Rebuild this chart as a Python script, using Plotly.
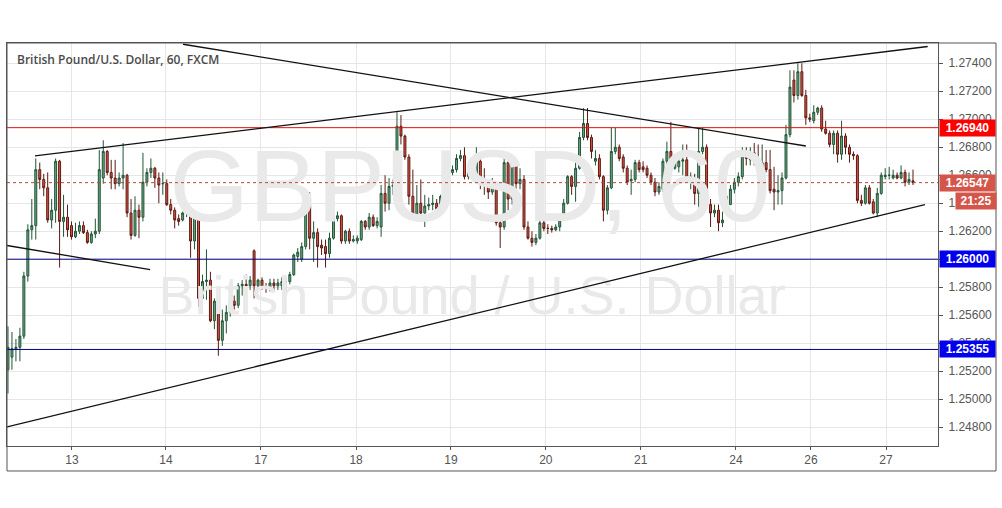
import plotly.graph_objects as go

# ---------------- data (GBPUSD, 1h candles) ----------------
opens = [1.2521,1.2530,1.2536,1.2537,1.2545,1.2588,1.2621,1.2624,1.2664,1.2657,
1.2651,1.2628,1.2635,1.2670,1.2627,1.2630,1.2624,1.2616,1.2620,1.2624,
1.2619,1.2612,1.2618,1.2620,1.2658,1.2677,1.2662,1.2658,1.2654,1.2658,
1.2660,1.2633,1.2617,1.2635,1.2630,1.2655,1.2662,1.2665,1.2658,1.2654,
1.2654,1.2639,1.2635,1.2629,1.2628,1.2633,1.2633,1.2613,1.2630,1.2572,
1.2584,1.2585,1.2556,1.2570,1.2542,1.2556,1.2562,1.2570,1.2567,1.2581,
1.2582,1.2581,1.2606,1.2581,1.2585,1.2580,1.2580,1.2583,1.2581,1.2581,
1.2584,1.2584,1.2589,1.2602,1.2600,1.2609,1.2639,1.2615,1.2619,1.2610,
1.2609,1.2604,1.2615,1.2629,1.2631,1.2613,1.2620,1.2613,1.2613,1.2614,
1.2627,1.2623,1.2630,1.2624,1.2623,1.2647,1.2640,1.2652,1.2653,1.2695,
1.2688,1.2673,1.2645,1.2632,1.2640,1.2633,1.2638,1.2639,1.2640,1.2636,
1.2645,1.2655,1.2662,1.2664,1.2672,1.2674,1.2659,1.2662,1.2659,1.2670,
1.2655,1.2653,1.2648,1.2652,1.2626,1.2623,1.2669,1.2643,1.2669,1.2654,
1.2657,1.2623,1.2615,1.2612,1.2615,1.2626,1.2622,1.2622,1.2621,1.2623,
1.2630,1.2640,1.2659,1.2652,1.2665,1.2687,1.2697,1.2687,1.2670,1.2672,
1.2659,1.2635,1.2651,1.2677,1.2680,1.2673,1.2665,1.2656,1.2657,1.2669,
1.2666,1.2665,1.2660,1.2655,1.2648,1.2650,1.2670,1.2677,1.2665,1.2666,
1.2670,1.2671,1.2657,1.2658,1.2647,1.2677,1.2680,1.2639,1.2633,1.2635,
1.2626,1.2645,1.2639,1.2650,1.2655,1.2659,1.2677,1.2671,1.2676,1.2671,
1.2664,1.2669,1.2664,1.2650,1.2648,1.2649,1.2658,1.2689,1.2728,1.2717,
1.2734,1.2717,1.2701,1.2699,1.2705,1.2708,1.2693,1.2690,1.2682,1.2690,
1.2675,1.2688,1.2680,1.2675,1.2674,1.2642,1.2640,1.2651,1.2641,1.2633,
1.2647,1.2659,1.2660,1.2658,1.2660,1.2658,1.2662,1.2655,1.2656]
highs = [1.2552,1.2548,1.2543,1.2551,1.2591,1.2625,1.2643,1.2672,1.2669,1.2661,
1.2662,1.2643,1.2672,1.2671,1.2646,1.2639,1.2627,1.2626,1.2627,1.2627,
1.2621,1.2620,1.2629,1.2678,1.2685,1.2678,1.2671,1.2671,1.2662,1.2683,
1.2661,1.2643,1.2645,1.2639,1.2676,1.2665,1.2672,1.2666,1.2662,1.2662,
1.2657,1.2643,1.2637,1.2632,1.2634,1.2635,1.2634,1.2633,1.2632,1.2589,
1.2607,1.2591,1.2572,1.2571,1.2564,1.2567,1.2578,1.2574,1.2583,1.2585,
1.2589,1.2588,1.2607,1.2586,1.2587,1.2583,1.2586,1.2586,1.2586,1.2587,
1.2587,1.2591,1.2604,1.2608,1.2612,1.2648,1.2648,1.2627,1.2622,1.2614,
1.2614,1.2619,1.2633,1.2634,1.2632,1.2621,1.2622,1.2617,1.2617,1.2628,
1.2628,1.2633,1.2632,1.2630,1.2653,1.2660,1.2658,1.2657,1.2705,1.2703,
1.2689,1.2675,1.2664,1.2653,1.2657,1.2646,1.2644,1.2646,1.2643,1.2646,
1.2657,1.2671,1.2667,1.2675,1.2678,1.2680,1.2665,1.2664,1.2680,1.2672,
1.2665,1.2657,1.2658,1.2653,1.2628,1.2676,1.2671,1.2672,1.2670,1.2665,
1.2660,1.2627,1.2620,1.2618,1.2628,1.2628,1.2625,1.2624,1.2625,1.2632,
1.2643,1.2660,1.2660,1.2670,1.2691,1.2708,1.2708,1.2689,1.2678,1.2675,
1.2660,1.2653,1.2694,1.2694,1.2682,1.2675,1.2667,1.2664,1.2671,1.2671,
1.2670,1.2667,1.2662,1.2658,1.2655,1.2672,1.2684,1.2698,1.2675,1.2672,
1.2682,1.2682,1.2662,1.2661,1.2694,1.2694,1.2682,1.2643,1.2639,1.2639,
1.2634,1.2648,1.2653,1.2658,1.2662,1.2680,1.2680,1.2680,1.2683,1.2682,
1.2682,1.2678,1.2678,1.2666,1.2660,1.2662,1.2696,1.2735,1.2735,1.2740,
1.2740,1.2721,1.2704,1.2710,1.2709,1.2710,1.2699,1.2692,1.2692,1.2692,
1.2699,1.2690,1.2682,1.2677,1.2675,1.2646,1.2653,1.2653,1.2643,1.2651,
1.2662,1.2665,1.2666,1.2664,1.2662,1.2667,1.2664,1.2662,1.2664]
lows = [1.2504,1.2521,1.2527,1.2527,1.2543,1.2584,1.2614,1.2614,1.2650,1.2645,
1.2626,1.2622,1.2626,1.2594,1.2616,1.2616,1.2614,1.2615,1.2618,1.2618,
1.2611,1.2611,1.2615,1.2618,1.2654,1.2660,1.2650,1.2650,1.2652,1.2650,
1.2630,1.2614,1.2616,1.2615,1.2627,1.2652,1.2658,1.2651,1.2640,1.2646,
1.2638,1.2632,1.2622,1.2624,1.2627,1.2630,1.2601,1.2607,1.2566,1.2566,
1.2571,1.2555,1.2550,1.2531,1.2538,1.2547,1.2559,1.2564,1.2565,1.2574,
1.2576,1.2578,1.2572,1.2578,1.2578,1.2576,1.2577,1.2578,1.2578,1.2578,
1.2575,1.2582,1.2588,1.2598,1.2598,1.2607,1.2607,1.2598,1.2594,1.2603,
1.2594,1.2601,1.2614,1.2627,1.2611,1.2611,1.2611,1.2612,1.2611,1.2613,
1.2621,1.2621,1.2623,1.2622,1.2616,1.2634,1.2635,1.2646,1.2648,1.2682,
1.2671,1.2639,1.2628,1.2630,1.2632,1.2623,1.2635,1.2635,1.2634,1.2634,
1.2643,1.2653,1.2660,1.2662,1.2670,1.2657,1.2657,1.2657,1.2657,1.2650,
1.2646,1.2643,1.2646,1.2624,1.2608,1.2621,1.2635,1.2639,1.2650,1.2650,
1.2621,1.2614,1.2609,1.2610,1.2614,1.2620,1.2618,1.2619,1.2620,1.2620,
1.2628,1.2639,1.2646,1.2641,1.2664,1.2685,1.2685,1.2672,1.2667,1.2657,
1.2627,1.2632,1.2650,1.2675,1.2670,1.2662,1.2653,1.2646,1.2655,1.2662,
1.2662,1.2658,1.2653,1.2645,1.2646,1.2648,1.2667,1.2662,1.2664,1.2662,
1.2660,1.2655,1.2650,1.2639,1.2637,1.2675,1.2637,1.2623,1.2630,1.2620,
1.2623,1.2636,1.2639,1.2647,1.2652,1.2657,1.2667,1.2667,1.2667,1.2659,
1.2661,1.2662,1.2647,1.2635,1.2639,1.2639,1.2657,1.2687,1.2712,1.2714,
1.2716,1.2696,1.2698,1.2697,1.2703,1.2691,1.2689,1.2680,1.2675,1.2669,
1.2671,1.2675,1.2669,1.2671,1.2640,1.2638,1.2639,1.2639,1.2632,1.2630,
1.2646,1.2657,1.2657,1.2657,1.2657,1.2657,1.2652,1.2653,1.2653]
closes = [1.2537,1.2536,1.2537,1.2545,1.2588,1.2621,1.2624,1.2664,1.2657,1.2651,
1.2628,1.2635,1.2670,1.2627,1.2630,1.2621,1.2616,1.2620,1.2624,1.2619,
1.2612,1.2618,1.2620,1.2664,1.2677,1.2662,1.2658,1.2654,1.2658,1.2660,
1.2633,1.2617,1.2635,1.2630,1.2655,1.2662,1.2665,1.2658,1.2653,1.2654,
1.2639,1.2635,1.2628,1.2627,1.2633,1.2633,1.2613,1.2630,1.2572,1.2584,
1.2585,1.2556,1.2570,1.2542,1.2556,1.2562,1.2570,1.2567,1.2581,1.2582,
1.2581,1.2585,1.2581,1.2585,1.2580,1.2580,1.2583,1.2581,1.2583,1.2584,
1.2584,1.2589,1.2603,1.2605,1.2609,1.2639,1.2615,1.2619,1.2609,1.2608,
1.2604,1.2615,1.2630,1.2631,1.2613,1.2620,1.2613,1.2614,1.2615,1.2627,
1.2623,1.2630,1.2624,1.2627,1.2647,1.2640,1.2652,1.2653,1.2695,1.2688,
1.2673,1.2645,1.2632,1.2640,1.2633,1.2638,1.2639,1.2640,1.2636,1.2645,
1.2655,1.2662,1.2664,1.2672,1.2674,1.2659,1.2662,1.2659,1.2670,1.2655,
1.2653,1.2648,1.2652,1.2626,1.2623,1.2669,1.2643,1.2669,1.2654,1.2657,
1.2623,1.2615,1.2612,1.2615,1.2626,1.2622,1.2622,1.2621,1.2623,1.2630,
1.2640,1.2659,1.2652,1.2665,1.2687,1.2697,1.2687,1.2677,1.2672,1.2659,
1.2635,1.2651,1.2677,1.2680,1.2672,1.2665,1.2655,1.2657,1.2669,1.2664,
1.2664,1.2660,1.2655,1.2648,1.2652,1.2670,1.2677,1.2665,1.2670,1.2670,
1.2671,1.2657,1.2659,1.2647,1.2677,1.2680,1.2639,1.2633,1.2635,1.2626,
1.2628,1.2639,1.2650,1.2655,1.2659,1.2677,1.2672,1.2675,1.2670,1.2664,
1.2669,1.2664,1.2649,1.2648,1.2649,1.2658,1.2689,1.2723,1.2717,1.2734,
1.2717,1.2701,1.2700,1.2705,1.2708,1.2693,1.2690,1.2682,1.2690,1.2675,
1.2688,1.2680,1.2675,1.2674,1.2642,1.2640,1.2651,1.2640,1.2633,1.2647,
1.2660,1.2660,1.2660,1.2660,1.2658,1.2662,1.2655,1.2657,1.26547]

day_labels = ["13", "14", "17", "18", "19", "20", "21", "24", "26", "27"]
day_bars = [16.1, 39.8, 63.7, 87.7, 111.6, 135.5, 159.4, 183.4, 202.3, 221.2]

price_ticks = [1.248, 1.250, 1.252, 1.254, 1.256, 1.258, 1.260,
               1.262, 1.264, 1.266, 1.268, 1.270, 1.272, 1.274]

resistance = 1.26940
supports = [1.26000, 1.25355]
last_price = 1.26547
countdown = "21:25"

# trend lines: (bar0, price0, bar1, price1)
trend_lines = [
    (6.8, 1.26738, 231.7, 1.27520),
    (44.1, 1.27536, 201.0, 1.26809),
    (-0.25, 1.24802, 231.0, 1.26390),
    (-0.25, 1.26098, 35.8, 1.25926),
]

title_text = "British Pound/U.S. Dollar, 60, FXCM"
wm_big = "GBPUSD, 60"
wm_small = "British Pound / U.S. Dollar"

# ---------------- figure ----------------
bars = list(range(len(opens)))
fig = go.Figure()

# watermarks (behind candles)
fig.add_trace(go.Scatter(
    x=[116.4], y=[1.26455], mode="text", text=[wm_big],
    textfont=dict(family="Liberation Sans", size=102, color="#e9e9e9"),
    hoverinfo="skip", showlegend=False))
fig.add_trace(go.Scatter(
    x=[116.9], y=[1.25708], mode="text", text=[wm_small],
    textfont=dict(family="Liberation Sans", size=54, color="#e9e9e9"),
    hoverinfo="skip", showlegend=False))

fig.add_trace(go.Candlestick(
    x=bars, open=opens, high=highs, low=lows, close=closes,
    increasing=dict(line=dict(color="#225437", width=1), fillcolor="#6ba583"),
    decreasing=dict(line=dict(color="#5b1a13", width=1), fillcolor="#d75442"),
    whiskerwidth=0, showlegend=False))

shapes = []
shapes.append(dict(type="line", xref="paper", x0=0, x1=1, yref="y",
                   y0=resistance, y1=resistance, line=dict(color="#e01010", width=1)))
for s in supports:
    shapes.append(dict(type="line", xref="paper", x0=0, x1=1, yref="y",
                       y0=s, y1=s, line=dict(color="#000080", width=1)))
shapes.append(dict(type="line", xref="paper", x0=0, x1=1, yref="y",
                   y0=last_price, y1=last_price,
                   line=dict(color="#b5493c", width=1, dash="dot")))
for (x0, y0, x1, y1) in trend_lines:
    shapes.append(dict(type="line", xref="x", yref="y", x0=x0, y0=y0, x1=x1, y1=y1,
                       line=dict(color="#111111", width=1.3)))
# outer frame
shapes.append(dict(type="rect", xref="paper", yref="paper", x0=0, x1=1.0623,
                   y0=-0.062, y1=1, line=dict(color="#555555", width=1),
                   fillcolor="rgba(0,0,0,0)", layer="above"))

box_x = 1.0011
annotations = [
    dict(text=title_text, xref="paper", yref="paper", x=0.0086, y=0.958,
         xanchor="left", yanchor="middle", showarrow=False,
         font=dict(family="Open Sans", size=12, color="#4a4a4a", weight=600)),
]

def price_box(val, color):
    return dict(text=f"{val:.5f}", xref="paper", yref="y", x=box_x, y=val,
                xanchor="left", yanchor="middle", showarrow=False,
                bgcolor=color, width=53, height=14, borderpad=1,
                font=dict(family="Liberation Sans", size=12, color="white", weight="bold"))

annotations.append(price_box(resistance, "#ff0000"))
for s in supports:
    annotations.append(price_box(s, "#0000ee"))
annotations.append(price_box(last_price, "#d4564a"))
annotations.append(dict(text=countdown, xref="paper", yref="y", x=1.0183, y=last_price,
                        yshift=-18, xanchor="left", yanchor="middle", showarrow=False,
                        bgcolor="#d4564a", width=38, height=14, borderpad=1,
                        font=dict(family="Liberation Sans", size=12, color="white", weight="bold")))

fig.update_layout(
    width=1002, height=508,
    margin=dict(l=7, r=64, t=43, b=62),
    paper_bgcolor="white", plot_bgcolor="white",
    shapes=shapes, annotations=annotations,
    xaxis=dict(range=[-0.25, 234.3], tickmode="array", tickvals=day_bars,
               ticktext=day_labels, showgrid=True, gridcolor="#e6e6e6",
               ticks="outside", ticklen=3, tickcolor="#555555",
               showline=True, linecolor="#555555", mirror=True, zeroline=False,
               tickfont=dict(family="Liberation Sans", size=12, color="#555555"),
               rangeslider=dict(visible=False)),
    yaxis=dict(side="right", range=[1.24665, 1.27545], tickmode="array",
               tickvals=price_ticks, ticktext=[f"{v:.5f}" for v in price_ticks],
               showgrid=True, gridcolor="#e6e6e6", ticks="outside", ticklen=4,
               tickcolor="#555555", showline=True, linecolor="#555555", mirror=True,
               zeroline=False, ticklabelstandoff=3,
               tickfont=dict(family="Liberation Sans", size=12, color="#555555")),
    hovermode=False,
)

fig.write_html("out.html", config={"displayModeBar": False},
               post_script="document.body.style.margin='0px';document.body.style.overflow='hidden';")
